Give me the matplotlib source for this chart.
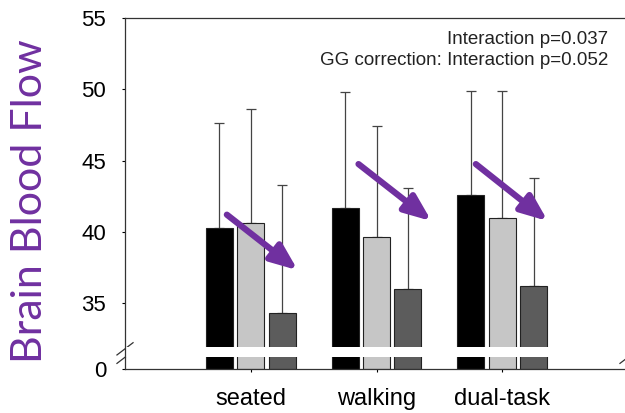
import numpy as np
import matplotlib.pyplot as plt

# Mean brain blood flow and upper error (SD) per condition
conditions = ['seated', 'walking', 'dual-task']
black_means = [40.3, 41.7, 42.6]
light_means = [40.6, 39.6, 41.0]
dark_means = [34.3, 36.0, 36.2]
black_tops = [47.6, 49.8, 49.9]
light_tops = [48.6, 47.4, 49.9]
dark_tops = [43.3, 43.1, 43.8]

# purple trend arrows: (x0, y0) -> (x1, y1) in data units
arrow_starts = [(-0.19, 41.2), (0.857, 44.75), (1.79, 44.75)]
arrow_ends = [(0.374, 37.3), (1.437, 40.75), (2.362, 40.75)]

y_floor = 30.37          # where the broken axis reads "0"
gap = (31.21, 31.91)     # white break across the bars

plt.rcParams['font.family'] = ['Liberation Sans', 'DejaVu Sans']

fig = plt.figure(figsize=(6.25, 4.13), dpi=100)
ax = fig.add_axes([0.2, 0.1065, 0.8048, 0.8499])

x = np.arange(len(conditions))
w = 0.215
off = 0.25
series = [(black_means, black_tops, '#000000', -off),
          (light_means, light_tops, '#c6c6c6', 0),
          (dark_means, dark_tops, '#5c5c5c', off)]
for means, tops, col, dx in series:
    means = np.array(means)
    heights = means - y_floor
    ax.bar(x + dx, heights, w, bottom=y_floor, color=col,
           edgecolor='#222222', linewidth=0.8, zorder=2)
    err = np.array(tops) - means
    ax.errorbar(x + dx, means, yerr=[np.zeros_like(err), err], fmt='none',
                ecolor='#444444', elinewidth=0.9, capsize=3.5, capthick=0.9,
                zorder=1.5)

# break in the bars
ax.axhspan(gap[0], gap[1], color='white', zorder=2.2, lw=0)

for (x0, y0), (x1, y1) in zip(arrow_starts, arrow_ends):
    ax.annotate('', xy=(x1, y1), xytext=(x0, y0),
                arrowprops=dict(arrowstyle='-|>,head_length=1.6,head_width=0.65',
                                lw=4.5, color='#7030a0', shrinkA=0, shrinkB=0),
                zorder=5)

ax.set_xlim(-1, 3)
ax.set_ylim(y_floor, 55)
ax.set_xticks(x)
ax.set_xticklabels(conditions, fontsize=17)
ax.set_yticks([y_floor, 35, 40, 45, 50, 55])
ax.set_yticklabels(['0', '35', '40', '45', '50', '55'], fontsize=16)
ax.tick_params(axis='y', direction='out', length=2.5, width=0.8, pad=11)
ax.tick_params(axis='x', direction='out', length=2.5, width=0.8, pad=11)
ax.spines['right'].set_visible(False)
for s in ['left', 'top', 'bottom']:
    ax.spines[s].set_linewidth(0.9)
    ax.spines[s].set_color('#333333')

# break marks on the axis
for xs in [0.0, 1.0]:
    for dy in [0.0, -0.024]:
        ax.plot([xs - 0.016, xs + 0.016], [0.04 + dy, 0.075 + dy],
                transform=ax.transAxes, color='#333333', lw=0.9, clip_on=False)

ax.text(0.96, 0.94, 'Interaction p=0.037', transform=ax.transAxes,
        ha='right', va='center', fontsize=13.5, color='#222222')
ax.text(0.96, 0.88, 'GG correction: Interaction p=0.052', transform=ax.transAxes,
        ha='right', va='center', fontsize=13.5, color='#222222')

fig.text(0.048, 0.513, 'Brain Blood Flow', rotation=90, ha='center', va='center',
         fontsize=31, color='#7030a0', family=['Lato', 'DejaVu Sans'])

fig.savefig('out.png', dpi=100)
